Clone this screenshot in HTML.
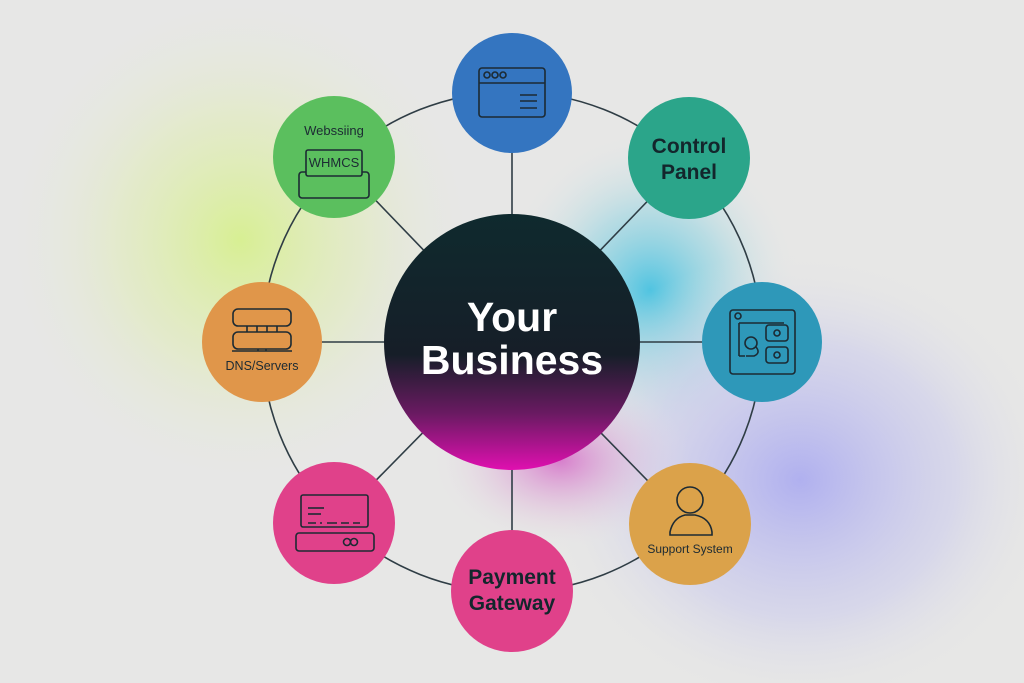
<!DOCTYPE html>
<html><head><meta charset="utf-8"><style>
html,body{margin:0;padding:0;width:1024px;height:683px;overflow:hidden;background:#e7e7e6}
svg{display:block}
text{font-family:"Liberation Sans",sans-serif}
</style></head><body>
<svg width="1024" height="683" viewBox="0 0 1024 683" xmlns="http://www.w3.org/2000/svg">
<defs>
<radialGradient id="gy" cx="0.5" cy="0.5" r="0.5"><stop offset="0" stop-color="#d6f08a" stop-opacity="0.9"/><stop offset="0.5" stop-color="#dfedb0" stop-opacity="0.5"/><stop offset="1" stop-color="#e7e7e6" stop-opacity="0"/></radialGradient>
<radialGradient id="gc" cx="0.5" cy="0.5" r="0.5"><stop offset="0" stop-color="#40c0e0" stop-opacity="0.9"/><stop offset="0.5" stop-color="#80cfe0" stop-opacity="0.45"/><stop offset="1" stop-color="#e7e7e6" stop-opacity="0"/></radialGradient>
<radialGradient id="gp" cx="0.5" cy="0.5" r="0.5"><stop offset="0" stop-color="#aaaaf0" stop-opacity="0.9"/><stop offset="0.6" stop-color="#c4c4ee" stop-opacity="0.45"/><stop offset="1" stop-color="#e7e7e6" stop-opacity="0"/></radialGradient>
<radialGradient id="gm" cx="0.5" cy="0.5" r="0.5"><stop offset="0" stop-color="#d050c0" stop-opacity="0.7"/><stop offset="1" stop-color="#e7e7e6" stop-opacity="0"/></radialGradient>
<linearGradient id="cg" x1="0" y1="0" x2="0" y2="1"><stop offset="0" stop-color="#0f2a2e"/><stop offset="0.55" stop-color="#161e28"/><stop offset="0.78" stop-color="#6a1a62"/><stop offset="1" stop-color="#e010b0"/></linearGradient>
</defs>
<ellipse cx="240" cy="240" rx="240" ry="250" fill="url(#gy)"/>
<ellipse cx="650" cy="290" rx="150" ry="160" fill="url(#gc)"/>
<ellipse cx="800" cy="480" rx="260" ry="230" fill="url(#gp)"/>
<ellipse cx="560" cy="460" rx="130" ry="90" fill="url(#gm)"/>
<g stroke="#2f3d45" stroke-width="1.6" fill="none">
<circle cx="512" cy="342" r="250"/>
<line x1="512" y1="342" x2="512" y2="93"/>
<line x1="512" y1="342" x2="512" y2="591"/>
<line x1="512" y1="342" x2="262" y2="342"/>
<line x1="512" y1="342" x2="762" y2="342"/>
<line x1="512" y1="342" x2="334" y2="157"/>
<line x1="512" y1="342" x2="689" y2="158"/>
<line x1="512" y1="342" x2="334" y2="523"/>
<line x1="512" y1="342" x2="690" y2="524"/>
</g>
<circle cx="512" cy="342" r="128" fill="url(#cg)"/>
<text x="512" y="331" text-anchor="middle" font-size="41" fill="#fff" font-weight="bold">Your</text>
<text x="512" y="374" text-anchor="middle" font-size="41" fill="#fff" font-weight="bold">Business</text>
<circle cx="512" cy="93" r="60" fill="#3475c0"/>
<circle cx="689" cy="158" r="61" fill="#2ba58a"/>
<circle cx="762" cy="342" r="60" fill="#2e98b9"/>
<circle cx="690" cy="524" r="61" fill="#dba24a"/>
<circle cx="512" cy="591" r="61" fill="#e0418a"/>
<circle cx="334" cy="523" r="61" fill="#e0418a"/>
<circle cx="262" cy="342" r="60" fill="#e0964a"/>
<circle cx="334" cy="157" r="61" fill="#5bbf5e"/>
<g stroke="#1c2a33" stroke-width="1.6" fill="none">
<rect x="479" y="68" width="66" height="49" rx="3"/><line x1="479" y1="83" x2="545" y2="83"/>
<circle cx="487" cy="75" r="3"/><circle cx="495" cy="75" r="3"/><circle cx="503" cy="75" r="3"/>
<line x1="520" y1="95" x2="537" y2="95"/><line x1="520" y1="101" x2="537" y2="101"/><line x1="520" y1="108" x2="537" y2="108"/>
<rect x="299" y="172" width="70" height="26" rx="3"/><rect x="306" y="150" width="56" height="26" rx="2" fill="#5bbf5e"/>
<rect x="233" y="309" width="58" height="17" rx="5"/><rect x="233" y="332" width="58" height="17" rx="5"/>
<line x1="247" y1="326" x2="247" y2="332"/><line x1="257" y1="326" x2="257" y2="332"/><line x1="267" y1="326" x2="267" y2="332"/><line x1="277" y1="326" x2="277" y2="332"/>
<line x1="232" y1="351" x2="292" y2="351"/><line x1="258" y1="349" x2="258" y2="351"/><line x1="266" y1="349" x2="266" y2="351"/>
<rect x="730" y="310" width="65" height="64" rx="3"/><circle cx="738" cy="316" r="3"/>
<path d="M739 323 h45 M739 323 v33 M739 356 h6"/>
<rect x="766" y="325" width="22" height="16" rx="3"/><circle cx="777" cy="333" r="3"/>
<rect x="766" y="347" width="22" height="16" rx="3"/><circle cx="777" cy="355" r="3"/>
<circle cx="751" cy="343" r="6"/><path d="M756 347 q5 6 -2 9 h-8"/>
<rect x="301" y="495" width="67" height="32" rx="2"/><rect x="296" y="533" width="78" height="18" rx="3"/>
<line x1="308" y1="508" x2="324" y2="508"/><line x1="308" y1="514" x2="321" y2="514"/>
<path d="M308 523 h8 M320 523 h2 M327 523 h10 M341 523 h8 M353 523 h7"/>
<circle cx="347" cy="542" r="3.5"/><circle cx="354" cy="542" r="3.5"/>
<circle cx="690" cy="500" r="13"/><path d="M670 535 v-3 q3 -14 15 -17 h10 q15 3 17 17 v3 z"/>
</g>
<text x="334" y="135" text-anchor="middle" font-size="13" fill="#1c2a33">Webssiing</text>
<text x="334" y="167" text-anchor="middle" font-size="13" fill="#1c2a33">WHMCS</text>
<text x="689" y="153" text-anchor="middle" font-size="21" fill="#13262c" font-weight="bold">Control</text>
<text x="689" y="179" text-anchor="middle" font-size="21" fill="#13262c" font-weight="bold">Panel</text>
<text x="262" y="370" text-anchor="middle" font-size="12.5" fill="#1c2a33">DNS/Servers</text>
<text x="690" y="553" text-anchor="middle" font-size="12" fill="#1c2a33">Support System</text>
<text x="512" y="584" text-anchor="middle" font-size="21" fill="#13262c" font-weight="bold">Payment</text>
<text x="512" y="610" text-anchor="middle" font-size="21" fill="#13262c" font-weight="bold">Gateway</text>
</svg>
</body></html>
